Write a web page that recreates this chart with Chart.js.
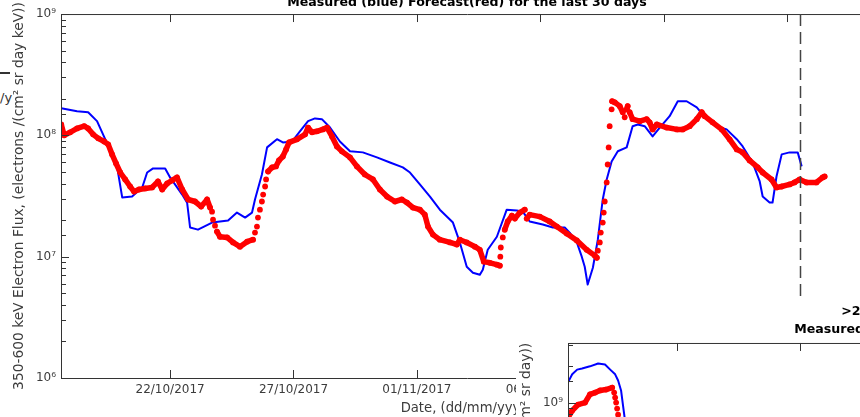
<!DOCTYPE html>
<html>
<head>
<meta charset="utf-8">
<script src="https://cdn.jsdelivr.net/npm/chart.js@4.4.1/dist/chart.umd.min.js"></script>
<style>
  html, body { margin: 0; padding: 0; background: #fff; }
  body { position: relative; width: 860px; height: 417px; overflow: hidden; font-family: "DejaVu Sans", sans-serif; }
  #fluxMain { position: absolute; left: 0; top: -20px; }
  #mevBox { position: absolute; left: 516px; top: 297px; width: 344px; height: 120px; overflow: hidden; background: #fff; }
  #fluxMev { position: absolute; left: -9px; top: 0; }
  .cut-bar { position: absolute; left: 0; top: 72px; width: 10px; height: 1.5px; background: #333; }
  .cut-txt { position: absolute; left: 0; top: 90px; font-size: 13px; color: #333; }
</style>
</head>
<body>
<div class="cut-bar"></div>
<span class="cut-txt">/y</span>
<canvas id="fluxMain" width="934" height="437"></canvas>
<div id="mevBox"><canvas id="fluxMev" width="934" height="449"></canvas></div>

<script>
// ---- x axis: days counted from 22/10/2017 00:00 ----
const tickDays = [0, 5, 10, 15, 20, 25];
const tickLabels = ['22/10/2017', '27/10/2017', '01/11/2017', '06/11/2017', '11/11/2017', '16/11/2017'];
const dayMin = -4.42;
const dayMax = 28.48;
const nowDay = 25.51;   // end of measurements, dashed marker

// ---- 350-600 keV channel: [day, flux] ----
const measured = [
  [-4.41, 1.67e8], [-3.77, 1.58e8], [-3.32, 1.55e8], [-2.96, 1.31e8], [-2.63, 9.3e7],
  [-2.15, 5.55e7], [-1.94, 3.08e7], [-1.54, 3.13e7], [-1.13, 3.72e7], [-0.93, 4.94e7],
  [-0.69, 5.34e7], [-0.20, 5.34e7], [0.00, 4.5e7], [0.49, 3.25e7], [0.69, 2.79e7],
  [0.81, 1.74e7], [1.13, 1.67e7], [1.70, 1.91e7], [2.35, 1.99e7], [2.71, 2.31e7],
  [3.04, 2.10e7], [3.32, 2.31e7], [3.44, 2.96e7], [3.72, 4.76e7], [3.93, 7.96e7],
  [4.33, 9.3e7], [4.57, 8.75e7], [4.94, 8.9e7], [5.26, 1.08e8], [5.59, 1.31e8],
  [5.87, 1.38e8], [6.15, 1.36e8], [6.48, 1.16e8], [6.88, 8.9e7], [7.29, 7.4e7],
  [7.81, 7.24e7], [8.38, 6.58e7], [8.91, 5.98e7], [9.43, 5.44e7], [9.72, 4.94e7],
  [10.12, 3.94e7], [10.53, 3.13e7], [10.93, 2.44e7], [11.46, 1.91e7], [11.74, 1.31e7],
  [12.02, 8.26e6], [12.27, 7.38e6], [12.55, 7.1e6], [12.67, 7.8e6], [12.87, 1.14e7],
  [13.24, 1.46e7], [13.64, 2.44e7], [14.05, 2.40e7], [14.29, 2.35e7], [14.57, 1.95e7],
  [15.10, 1.84e7], [15.51, 1.74e7], [15.99, 1.74e7], [16.19, 1.58e7], [16.48, 1.31e7],
  [16.68, 1.0e7], [16.80, 8.26e6], [16.92, 5.9e6], [17.13, 8.1e6], [17.33, 1.38e7],
  [17.53, 2.96e7], [17.69, 4.33e7], [17.89, 6.1e7], [18.14, 7.4e7], [18.50, 7.96e7],
  [18.74, 1.19e8], [18.95, 1.23e8], [19.23, 1.19e8], [19.55, 9.8e7], [19.84, 1.16e8],
  [20.24, 1.44e8], [20.57, 1.91e8], [20.93, 1.91e8], [21.34, 1.70e8], [21.74, 1.36e8],
  [22.15, 1.19e8], [22.55, 1.12e8], [22.96, 9.3e7], [23.20, 8.1e7], [23.60, 5.98e7],
  [23.89, 4.17e7], [24.01, 3.13e7], [24.29, 2.79e7], [24.41, 2.79e7], [24.57, 4.58e7],
  [24.78, 6.97e7], [25.10, 7.24e7], [25.43, 7.24e7], [25.59, 5.55e7]
];

const forecast = [
  [-4.41, 1.23e8], [-4.29, 1.00e8], [-4.05, 1.06e8], [-3.77, 1.14e8], [-3.48, 1.19e8],
  [-3.32, 1.14e8], [-3.12, 1.02e8], [-2.91, 9.45e7], [-2.67, 8.9e7], [-2.51, 8.43e7],
  [-2.35, 6.97e7], [-2.19, 5.87e7], [-2.02, 4.94e7], [-1.82, 4.33e7], [-1.62, 3.79e7],
  [-1.46, 3.44e7], [-1.26, 3.58e7], [-1.01, 3.65e7], [-0.73, 3.72e7], [-0.49, 4.17e7],
  [-0.32, 3.58e7], [-0.12, 4.01e7], [0.08, 4.25e7], [0.28, 4.5e7], [0.49, 3.58e7],
  [0.73, 2.96e7], [1.01, 2.85e7], [1.26, 2.59e7], [1.50, 2.96e7], [1.62, 2.54e7],
  [1.70, 2.35e7], [1.74, 2.02e7], [1.82, 1.80e7], [1.90, 1.61e7], [2.02, 1.46e7],
  [2.31, 1.44e7], [2.55, 1.31e7], [2.83, 1.21e7], [3.12, 1.33e7], [3.36, 1.38e7],
  [3.44, 1.58e7], [3.52, 1.77e7], [3.56, 2.10e7], [3.64, 2.44e7], [3.72, 2.85e7],
  [3.77, 3.25e7], [3.85, 3.79e7], [3.89, 4.33e7], [3.97, 5.04e7], [4.13, 5.44e7],
  [4.29, 5.55e7], [4.41, 6.21e7], [4.57, 6.70e7], [4.70, 7.66e7], [4.82, 8.75e7],
  [5.14, 9.27e7], [5.47, 1.02e8], [5.59, 1.16e8], [5.75, 1.06e8], [5.95, 1.08e8],
  [6.19, 1.12e8], [6.36, 1.16e8], [6.56, 9.8e7], [6.76, 8.1e7], [6.96, 7.38e7],
  [7.29, 6.58e7], [7.57, 5.55e7], [7.89, 4.76e7], [8.22, 4.33e7], [8.50, 3.58e7],
  [8.79, 3.13e7], [9.11, 2.85e7], [9.39, 2.96e7], [9.60, 2.79e7], [9.84, 2.54e7],
  [10.12, 2.44e7], [10.32, 2.22e7], [10.45, 1.77e7], [10.65, 1.52e7], [10.93, 1.38e7],
  [11.34, 1.31e7], [11.62, 1.26e7], [11.74, 1.38e7], [12.02, 1.31e7], [12.35, 1.21e7],
  [12.55, 1.14e7], [12.71, 9.1e6], [12.96, 8.9e6], [13.24, 8.6e6], [13.36, 8.43e6],
  [13.38, 1.0e7], [13.40, 1.19e7], [13.48, 1.44e7], [13.56, 1.67e7], [13.68, 1.95e7],
  [13.85, 2.18e7], [13.97, 2.06e7], [14.17, 2.31e7], [14.37, 2.44e7], [14.45, 2.06e7],
  [14.57, 2.22e7], [14.98, 2.14e7], [15.38, 1.95e7], [15.67, 1.77e7], [16.07, 1.55e7],
  [16.48, 1.36e7], [16.88, 1.14e7], [17.21, 1.02e7], [17.29, 9.8e6], [17.33, 1.12e7],
  [17.41, 1.31e7], [17.45, 1.58e7], [17.53, 1.91e7], [17.57, 2.31e7], [17.61, 2.85e7],
  [17.69, 4.09e7], [17.73, 5.75e7], [17.77, 7.96e7], [17.81, 1.19e8], [17.89, 1.64e8],
  [17.91, 1.91e8], [18.02, 1.87e8], [18.22, 1.74e8], [18.34, 1.55e8], [18.42, 1.41e8],
  [18.50, 1.64e8], [18.54, 1.74e8], [18.62, 1.55e8], [18.74, 1.36e8], [19.03, 1.31e8],
  [19.31, 1.36e8], [19.43, 1.28e8], [19.55, 1.12e8], [19.72, 1.23e8], [20.12, 1.16e8],
  [20.53, 1.12e8], [20.77, 1.12e8], [21.05, 1.19e8], [21.34, 1.36e8], [21.54, 1.55e8],
  [21.66, 1.44e8], [21.98, 1.28e8], [22.35, 1.12e8], [22.67, 9.27e7], [22.96, 7.66e7],
  [23.20, 7.24e7], [23.48, 6.21e7], [23.81, 5.44e7], [24.01, 4.94e7], [24.37, 4.33e7],
  [24.57, 3.72e7], [24.78, 3.79e7], [25.10, 3.94e7], [25.30, 4.09e7], [25.51, 4.33e7],
  [25.79, 4.09e7], [26.19, 4.09e7], [26.44, 4.5e7], [26.52, 4.58e7]
];

// ---- >2 MeV channel (only its first hours are in view) ----
const measuredMev = [
  [-4.42, 1.47e9], [-4.25, 1.71e9], [-4.05, 1.87e9], [-3.85, 1.91e9], [-3.53, 1.99e9],
  [-3.20, 2.10e9], [-2.92, 2.06e9], [-2.71, 1.87e9], [-2.51, 1.71e9], [-2.39, 1.52e9],
  [-2.27, 1.26e9], [-2.19, 9.46e8], [-2.11, 7.1e8], [-1.99, 4.0e8]
];
const forecastMev = [
  [-4.42, 7.52e8], [-4.25, 8.59e8], [-4.01, 9.64e8], [-3.73, 1.0e9], [-3.53, 1.17e9],
  [-3.32, 1.21e9], [-3.12, 1.26e9], [-2.88, 1.28e9], [-2.63, 1.33e9], [-2.55, 1.21e9],
  [-2.51, 1.10e9], [-2.47, 1.0e9], [-2.43, 8.93e8], [-2.39, 7.96e8], [-2.35, 7.1e8]
];

const FONT = 'DejaVu Sans';
const AXIS_COLOR = '#333';
const LABEL_COLOR = '#3c3c3c';
const BLUE = '#0000ff';
const RED = '#ff0000';
const SUP = '⁰¹²³⁴⁵⁶⁷⁸⁹';

Chart.defaults.font.family = FONT;

function isDecade(v) {
  const e = Math.log10(v);
  return Math.abs(e - Math.round(e)) < 1e-6;
}

function decadeLabel(v) {
  if (!isDecade(v)) return '';
  return '10' + String(Math.round(Math.log10(v))).split('').map(c => SUP[+c]).join('');
}

const toPoints = rows => rows.map(([d, f]) => ({ x: d, y: f }));

// box around the axes, inward ticks on all four sides, optional dashed "now" marker
const matlabAxes = {
  id: 'matlabAxes',
  afterDatasetsDraw(chart, args, opts) {
    const { ctx, chartArea: a, scales: { x, y } } = chart;
    ctx.save();
    ctx.strokeStyle = AXIS_COLOR;
    ctx.lineWidth = 1;
    ctx.beginPath();
    ctx.rect(a.left + 0.5, a.top + 0.5, a.right - a.left, a.bottom - a.top);
    x.ticks.forEach(t => {
      const px = Math.round(x.getPixelForValue(t.value)) + 0.5;
      ctx.moveTo(px, a.bottom); ctx.lineTo(px, a.bottom - 8);
      ctx.moveTo(px, a.top); ctx.lineTo(px, a.top + 8);
    });
    y.ticks.forEach(t => {
      const py = Math.round(y.getPixelForValue(t.value)) + 0.5;
      const len = isDecade(t.value) ? 8 : 5;
      ctx.moveTo(a.left, py); ctx.lineTo(a.left + len, py);
      ctx.moveTo(a.right, py); ctx.lineTo(a.right - len, py);
    });
    ctx.stroke();

    if (opts.now != null) {
      const px = Math.round(x.getPixelForValue(opts.now)) + 0.5;
      ctx.beginPath();
      ctx.setLineDash([12, 6]);
      ctx.lineWidth = 1.5;
      ctx.strokeStyle = '#444';
      ctx.moveTo(px, a.top);
      ctx.lineTo(px, a.bottom);
      ctx.stroke();
    }
    ctx.restore();
  }
};

function buildChart(canvasId, cfg) {
  return new Chart(document.getElementById(canvasId), {
    type: 'line',
    data: {
      datasets: [
        {
          label: 'Forecast',
          data: toPoints(cfg.forecast),
          order: 0,
          borderColor: RED,
          backgroundColor: RED,
          borderWidth: 5.5,
          borderJoinStyle: 'round',
          borderCapStyle: 'round',
          pointRadius: 2.9,
          pointBorderWidth: 0,
          pointBackgroundColor: RED,
          tension: 0,
          // hourly steps that jump steeply show as separate dots
          segment: {
            borderColor: c => (Math.abs(c.p1.x - c.p0.x) < 2.5 && Math.abs(c.p1.y - c.p0.y) > 4) ? 'rgba(0,0,0,0)' : RED
          }
        },
        {
          label: 'Measured',
          data: toPoints(cfg.measured),
          order: 1,
          borderColor: BLUE,
          borderWidth: 2,
          borderJoinStyle: 'round',
          pointRadius: 0,
          tension: 0
        }
      ]
    },
    options: {
      responsive: false,
      animation: false,
      devicePixelRatio: 1,
      layout: { padding: { left: 0, right: 61, top: 0, bottom: 0 } },
      plugins: {
        legend: { display: false },
        tooltip: { enabled: false },
        title: {
          display: true,
          fullSize: false,
          text: cfg.title,
          color: '#000',
          font: { family: FONT, size: 12.6, weight: 'bold', lineHeight: 1.4 },
          padding: cfg.titlePadding
        },
        matlabAxes: { now: cfg.now }
      },
      scales: {
        x: {
          type: 'linear',
          min: dayMin,
          max: dayMax,
          afterBuildTicks: s => { s.ticks = tickDays.map(v => ({ value: v })); },
          afterFit: s => { s.height = 39; },
          ticks: {
            autoSkip: false,
            maxRotation: 0,
            padding: 5,
            color: LABEL_COLOR,
            font: { family: FONT, size: 12 },
            callback: (v, i) => tickLabels[i]
          },
          grid: { display: false, drawTicks: false },
          border: { display: false },
          title: {
            display: true,
            text: 'Date, (dd/mm/yyyy)',
            color: LABEL_COLOR,
            font: { family: FONT, size: 13.2 },
            padding: { top: 0, bottom: 1 }
          }
        },
        y: {
          type: 'logarithmic',
          min: cfg.yMin,
          max: cfg.yMax,
          afterFit: s => { s.width = 61; },
          ticks: {
            autoSkip: false,
            padding: 5,
            color: LABEL_COLOR,
            font: { family: FONT, size: 12 },
            callback: v => decadeLabel(v)
          },
          grid: { display: false, drawTicks: false },
          border: { display: false },
          title: {
            display: true,
            text: cfg.yTitle,
            color: LABEL_COLOR,
            font: { family: FONT, size: 13.8 },
            padding: { top: 11.5, bottom: 0 }
          }
        }
      }
    },
    plugins: [matlabAxes]
  });
}

buildChart('fluxMain', {
  measured,
  forecast,
  title: 'Measured (blue) Forecast(red) for the last 30 days',
  titlePadding: { top: 13.8, bottom: 2.6 },
  yMin: 1e6,
  yMax: 1e9,
  yTitle: '350-600 keV Electron Flux, (electrons /(cm² sr day keV))',
  now: nowDay
});

buildChart('fluxMev', {
  measured: measuredMev,
  forecast: forecastMev,
  title: ['>2 MeV Integral Electron Flux at GEO', 'Measured (blue) Forecast(red) for the last 30 days'],
  titlePadding: { top: 6.3, bottom: 4.4 },
  yMin: 3.1e6,
  yMax: 3.1e9,
  yTitle: '>2 MeV Electron Daily Flux, (electrons /(cm² sr day))',
  now: nowDay
});
</script>
</body>
</html>
